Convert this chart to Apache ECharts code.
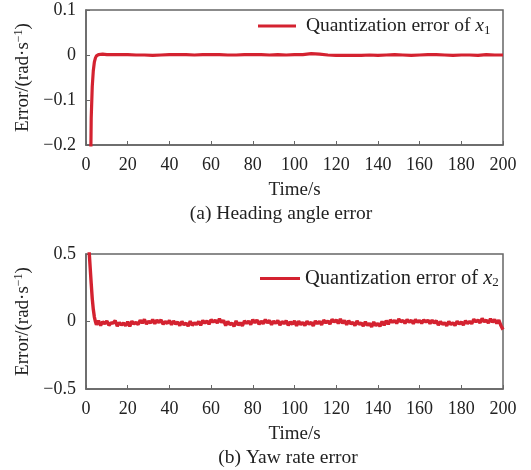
<!DOCTYPE html>
<html>
<head>
<meta charset="utf-8">
<script src="https://cdn.jsdelivr.net/npm/echarts@6/dist/echarts.min.js"></script>
<style>
  html, body { margin: 0; padding: 0; background: #fff; }
  #main { width: 531px; height: 470px; }
</style>
</head>
<body>
<div id="main"></div>
<script>
// 横坐标刻度
const xTicks = [0, 20, 40, 60, 80, 100, 120, 140, 160, 180, 200]

// (a) 航向角误差: 起始段 + 稳态段(每4s一个点)
const headTimeStart = [2, 2.5, 3, 3.5, 4, 4.5, 5, 6, 8, 10]
const headErrStart = [-0.35, -0.14, -0.07, -0.035, -0.016, -0.007, -0.002, 0.001, 0.002, 0.001]
const headTimeSteady = [12, 16, 20, 24, 28, 32, 36, 40, 44, 48, 52, 56, 60, 64, 68, 72, 76, 80, 84, 88,
  92, 96, 100, 104, 108, 112, 116, 120, 124, 128, 132, 136, 140, 144, 148, 152, 156, 160, 164, 168,
  172, 176, 180, 184, 188, 192, 196, 200]
const headErrSteady = [0.001, 0.001, 0.001, 0.0, 0.0, -0.001, 0.0, 0.001, 0.001, 0.001, 0.0, 0.001,
  0.001, 0.001, 0.0, 0.0, 0.001, 0.001, 0.001, 0.0, 0.001, 0.0, 0.001, 0.001, 0.003, 0.002, 0.0,
  -0.001, -0.001, -0.001, -0.001, 0.0, -0.001, 0.0, 0.001, 0.0, -0.001, 0.0, 0.001, 0.001, 0.0,
  -0.001, 0.0, 0.0, -0.001, 0.001, 0.0, 0.0]

// (b) 横摆角速度误差: 起始段 + 稳态段(5s~200s, 每1s一个点)
const yawTimeStart = [1, 1.5, 2, 2.5, 3, 3.5, 4, 4.5]
const yawErrStart = [0.7, 0.52, 0.4, 0.28, 0.17, 0.09, 0.035, 0.0]
const yawErrSteady = [
  -0.024, 0.006, -0.03, -0.002, -0.016, 0.004, -0.028, -0.01, -0.012, 0.006,
  -0.034, -0.008, -0.026, -0.012, -0.032, -0.002, -0.036, 0.002, -0.018, -0.006,
  -0.022, 0.01, -0.012, 0.016, -0.018, 0.002, -0.01, 0.014, -0.016, 0.01,
  -0.008, 0.012, -0.02, 0.0, -0.014, 0.008, -0.024, 0.004, -0.018, -0.004,
  -0.03, 0.0, -0.024, -0.012, -0.034, 0.002, -0.028, -0.01, -0.022, 0.0,
  -0.028, 0.008, -0.012, 0.004, -0.02, 0.014, -0.004, 0.01, -0.012, 0.02,
  -0.006, 0.008, -0.03, 0.0, -0.022, -0.012, -0.036, 0.004, -0.026, -0.01,
  -0.032, 0.004, -0.014, 0.002, -0.022, 0.014, -0.01, 0.012, -0.02, 0.002,
  -0.016, 0.014, -0.01, 0.008, -0.024, 0.002, -0.014, 0.008, -0.026, 0.0,
  -0.016, 0.006, -0.028, -0.004, -0.02, 0.004, -0.032, 0.002, -0.022, -0.006,
  -0.03, 0.002, -0.02, -0.006, -0.032, 0.004, -0.016, 0.0, -0.024, 0.01,
  -0.01, 0.004, -0.018, 0.016, -0.004, 0.012, -0.014, 0.018, -0.012, 0.008,
  -0.024, 0.006, -0.018, -0.006, -0.03, 0.004, -0.022, -0.01, -0.034, -0.002,
  -0.028, -0.014, -0.04, -0.004, -0.03, -0.014, -0.036, 0.0, -0.028, 0.006,
  -0.02, 0.012, -0.006, 0.008, -0.014, 0.018, -0.002, 0.008, -0.014, 0.014,
  -0.004, 0.008, -0.016, 0.014, -0.006, 0.008, -0.014, 0.012, -0.004, 0.01,
  -0.016, 0.01, -0.012, 0.006, -0.026, 0.0, -0.02, -0.01, -0.032, 0.0,
  -0.022, -0.01, -0.03, 0.002, -0.018, -0.004, -0.026, 0.006, -0.014, 0.0,
  -0.016, 0.016, -0.002, 0.01, -0.01, 0.022, -0.002, 0.01, -0.012, 0.02,
  -0.004, 0.014, -0.014, 0.01, -0.03, -0.06
]

const FONT = '"Liberation Serif", "Times New Roman", serif'
const RED = '#d42230'
const AXIS_COLOR = '#666'

const headData = headTimeStart.map((t, i) => [t, headErrStart[i]])
  .concat(headTimeSteady.map((t, i) => [t, headErrSteady[i]]))
const yawData = yawTimeStart.map((t, i) => [t, yawErrStart[i]])
  .concat(yawErrSteady.map((v, i) => [5 + i, v]))

const minusFmt = v => String(v).replace('-', '\u2212')

function makeX(gridIndex) {
  return {
    gridIndex,
    type: 'value',
    min: xTicks[0],
    max: xTicks[xTicks.length - 1],
    interval: 20,
    name: 'Time/s',
    nameLocation: 'middle',
    nameGap: 36,
    nameTextStyle: {fontFamily: FONT, fontSize: 19, color: '#222'},
    axisLine: {show: true, onZero: false, lineStyle: {color: AXIS_COLOR, width: 1.5}},
    axisTick: {show: true, inside: true, length: 4, lineStyle: {color: AXIS_COLOR}},
    axisLabel: {fontFamily: FONT, fontSize: 18, color: '#222', margin: 11},
    splitLine: {show: false},
  }
}

function makeY(gridIndex, min, max, interval) {
  return {
    gridIndex,
    type: 'value',
    min,
    max,
    interval,
    name: 'Error/(rad·s{sup|\u22121})',
    nameLocation: 'middle',
    nameGap: 51,
    nameRotate: 90,
    nameTextStyle: {
      fontFamily: FONT, fontSize: 19, color: '#222',
      rich: {sup: {fontFamily: FONT, fontSize: 12, color: '#222', padding: [0, 0, 9, 0]}},
    },
    axisLine: {show: true, onZero: false, lineStyle: {color: AXIS_COLOR, width: 1.5}},
    axisTick: {show: true, inside: true, length: 4, lineStyle: {color: AXIS_COLOR}},
    axisLabel: {fontFamily: FONT, fontSize: 18, color: '#222', margin: 10, formatter: minusFmt},
    splitLine: {show: false},
  }
}

function legendRich(size) {
  return {
    i: {fontFamily: FONT, fontSize: size, fontStyle: 'italic', color: '#222'},
    sub: {fontFamily: FONT, fontSize: Math.round(size * 0.65), color: '#222', padding: [9, 0, 0, 0]},
  }
}

const chart = echarts.init(document.getElementById('main'), null, {renderer: 'canvas'})
chart.setOption({
  backgroundColor: '#ffffff',
  animation: false,
  grid: [
    {left: 86, right: 28, top: 10, height: 135, show: true, borderColor: AXIS_COLOR, borderWidth: 1.5},
    {left: 86, right: 28, top: 254, height: 135, show: true, borderColor: AXIS_COLOR, borderWidth: 1.5},
  ],
  legend: [
    {
      data: ['x1'], left: 258, top: 16, icon: 'rect', itemWidth: 38, itemHeight: 3, padding: 0,
      formatter: n => ' Quantization error of {i|x}{sub|' + n.slice(1) + '}',
      textStyle: {fontFamily: FONT, fontSize: 19.5, color: '#222', rich: legendRich(19.5)},
    },
    {
      data: ['x2'], left: 260, top: 268, icon: 'rect', itemWidth: 40, itemHeight: 3, padding: 0,
      formatter: n => 'Quantization error of {i|x}{sub|' + n.slice(1) + '}',
      textStyle: {fontFamily: FONT, fontSize: 20.5, color: '#222', rich: legendRich(20.5)},
    },
  ],
  xAxis: [makeX(0), makeX(1)],
  yAxis: [makeY(0, -0.2, 0.1, 0.1), makeY(1, -0.5, 0.5, 0.5)],
  series: [
    {
      name: 'x1', type: 'line', xAxisIndex: 0, yAxisIndex: 0, data: headData,
      showSymbol: false, clip: true, lineStyle: {color: RED, width: 3.2}, itemStyle: {color: RED},
    },
    {
      name: 'x2', type: 'line', xAxisIndex: 1, yAxisIndex: 1, data: yawData,
      showSymbol: false, clip: true, lineStyle: {color: RED, width: 3.4}, itemStyle: {color: RED},
    },
  ],
  graphic: [
    {type: 'text', x: 281, y: 214, style: {text: '(a) Heading angle error', font: '19.5px ' + FONT, fill: '#222', align: 'center', verticalAlign: 'middle'}},
    {type: 'text', x: 288, y: 458, style: {text: '(b) Yaw rate error', font: '19.5px ' + FONT, fill: '#222', align: 'center', verticalAlign: 'middle'}},
  ],
})
</script>
</body>
</html>
